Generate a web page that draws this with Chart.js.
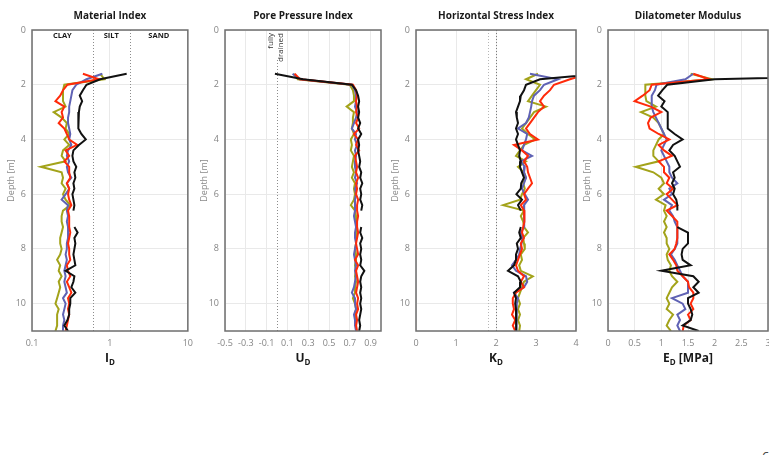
<!DOCTYPE html>
<html>
<head>
<meta charset="utf-8">
<title>DMT profiles</title>
<script src="https://cdn.jsdelivr.net/npm/chart.js@4.4.0/dist/chart.umd.min.js"></script>
<style>
  html, body { margin: 0; padding: 0; background: #fff; }
  body { position: relative; width: 769px; height: 455px; overflow: hidden; }
  canvas { position: absolute; top: 0; }
  .page-no { position: absolute; left: 762px; top: 447px; font: 13px "Open Sans", sans-serif; color: #333; }
</style>
</head>
<body>
<canvas id="materialChart" width="200" height="380" style="left:0"></canvas>
<canvas id="poreChart" width="200" height="380" style="left:193px"></canvas>
<canvas id="stressChart" width="204" height="380" style="left:384px"></canvas>
<canvas id="modulusChart" width="204" height="380" style="left:576px"></canvas>
<div class="page-no">6</div>

<script>
// depth of each reading [m]
const depth = [
  1.6, 1.8, 2.0, 2.2, 2.4, 2.6, 2.8, 3.0,
  3.2, 3.4, 3.6, 3.8, 4.0, 4.2, 4.4, 4.6,
  4.8, 5.0, 5.2, 5.4, 5.6, 5.8, 6.0, 6.2,
  6.4, 6.6, 6.8, 7.0, 7.2, 7.4, 7.6, 7.8,
  8.0, 8.2, 8.4, 8.6, 8.8, 9.0, 9.2, 9.4,
  9.6, 9.8, 10.0, 10.2, 10.4, 10.6, 10.8, 11.0
];

// Material index I_D
const idBlack = [
  1.64, 0.75, 0.50, 0.45, 0.41, 0.44, 0.41, 0.40,
  0.39, 0.40, 0.39, 0.43, 0.49, 0.40, 0.34, 0.33,
  0.34, 0.37, 0.35, 0.36, 0.34, 0.35, 0.33, 0.34,
  0.35, 0.34, null, null, 0.35, 0.385, 0.35, 0.36,
  0.35, 0.34, 0.35, 0.36, 0.27, 0.35, 0.34, 0.32,
  0.36, 0.31, 0.31, 0.30, 0.30, 0.285, 0.26, 0.29
];
const idRed = [
  0.45, 0.72, 0.285, 0.25, 0.23, 0.20, 0.26, 0.24,
  0.25, 0.22, 0.26, 0.28, 0.30, 0.38, 0.27, 0.30,
  0.26, 0.30, 0.30, 0.31, 0.28, 0.30, 0.29, 0.30,
  0.32, 0.29, 0.30, 0.30, 0.30, 0.31, 0.30, 0.29,
  0.30, 0.30, 0.31, 0.28, 0.29, 0.31, 0.28, 0.30,
  0.32, 0.29, 0.30, 0.29, 0.30, 0.29, 0.28, 0.27
];
const idBlue = [
  0.80, 0.50, 0.37, 0.33, 0.32, 0.31, 0.30, 0.30,
  0.29, 0.29, 0.30, 0.31, 0.30, 0.32, 0.29, 0.28,
  0.30, 0.28, 0.29, 0.32, 0.28, 0.30, 0.27, 0.24,
  0.29, 0.28, 0.29, 0.28, 0.29, 0.29, 0.29, 0.28,
  0.28, 0.27, 0.28, 0.27, 0.26, 0.27, 0.26, 0.27,
  0.28, 0.25, 0.27, 0.26, 0.25, 0.26, 0.25, 0.25
];
const idOlive = [
  0.75, 0.85, 0.26, 0.25, 0.25, 0.25, 0.27, 0.19,
  0.24, 0.28, 0.27, 0.30, 0.26, 0.30, 0.25, 0.24,
  0.27, 0.13, 0.24, 0.25, 0.24, 0.27, 0.25, 0.27,
  0.31, 0.25, 0.24, 0.24, 0.25, 0.24, 0.23, 0.23,
  0.24, 0.23, 0.21, 0.23, 0.22, 0.24, 0.22, 0.23,
  0.22, 0.21, 0.20, 0.22, 0.21, 0.21, 0.21, 0.20
];

// Pore pressure index U_D
const udBlack = [
  -0.02, 0.25, 0.72, 0.76, 0.78, 0.79, 0.78, 0.79,
  0.78, 0.80, 0.78, 0.81, 0.78, 0.79, 0.78, 0.79,
  0.80, 0.79, 0.81, 0.80, 0.82, 0.80, 0.81, 0.80,
  0.82, 0.81, null, null, 0.81, 0.80, 0.82, 0.80,
  0.81, 0.80, 0.81, 0.80, 0.84, 0.81, 0.80, 0.81,
  0.80, 0.81, 0.80, 0.81, 0.80, 0.79, 0.80, 0.79
];
const udRed = [
  0.17, 0.22, 0.73, 0.76, 0.77, 0.76, 0.77, 0.76,
  0.78, 0.76, 0.79, 0.74, 0.78, 0.76, 0.79, 0.75,
  0.76, 0.77, 0.76, 0.78, 0.76, 0.77, 0.76, 0.78,
  0.77, 0.77, 0.78, 0.77, 0.77, 0.78, 0.77, 0.76,
  0.77, 0.78, 0.75, 0.78, 0.76, 0.77, 0.78, 0.77,
  0.76, 0.78, 0.77, 0.78, 0.76, 0.77, 0.76, 0.77
];
const udBlue = [
  0.15, 0.22, 0.72, 0.75, 0.76, 0.76, 0.75, 0.77,
  0.76, 0.74, 0.72, 0.76, 0.75, 0.77, 0.75, 0.76,
  0.75, 0.75, 0.76, 0.75, 0.77, 0.75, 0.76, 0.75,
  0.75, 0.75, 0.74, 0.75, 0.76, 0.75, 0.75, 0.76,
  0.75, 0.74, 0.75, 0.76, 0.75, 0.76, 0.75, 0.74,
  0.72, 0.75, 0.75, 0.76, 0.74, 0.75, 0.75, 0.76
];
const udOlive = [
  0.16, 0.20, 0.70, 0.73, 0.74, 0.74, 0.67, 0.74,
  0.73, 0.73, 0.72, 0.74, 0.71, 0.72, 0.71, 0.74,
  0.73, 0.72, 0.74, 0.72, 0.75, 0.74, 0.75, 0.74,
  0.71, 0.75, 0.76, 0.76, 0.76, 0.76, 0.76, 0.76,
  0.75, 0.76, 0.76, 0.75, 0.76, 0.75, 0.76, 0.75,
  0.75, 0.73, 0.75, 0.76, 0.75, 0.76, 0.76, 0.76
];

// Horizontal stress index K_D
const kdBlack = [
  4.6, 3.1, 2.75, 2.70, 2.62, 2.60, 2.55, 2.50,
  2.52, 2.55, 2.50, 2.55, 2.50, 2.55, 2.60, 2.58,
  2.62, 2.60, 2.65, 2.70, 2.63, 2.62, 2.51, 2.65,
  2.55, 2.62, null, null, 2.62, 2.58, 2.62, 2.52,
  2.55, 2.50, 2.50, 2.45, 2.30, 2.55, 2.62, 2.60,
  2.45, 2.50, 2.48, 2.50, 2.50, 2.50, 2.52, 2.50
];
const kdRed = [
  4.3, 3.85, 3.45, 3.35, 3.20, 3.10, 3.20, 3.05,
  2.95, 2.85, 2.75, 2.85, 3.05, 2.45, 2.65, 2.80,
  2.70, 2.78, 2.80, 2.85, 2.90, 2.80, 2.70, 2.75,
  2.62, 2.70, 2.72, 2.70, 2.68, 2.65, 2.70, 2.62,
  2.65, 2.60, 2.55, 2.50, 2.55, 2.70, 2.62, 2.70,
  2.50, 2.42, 2.42, 2.45, 2.40, 2.48, 2.42, 2.48
];
const kdBlue = [
  2.85, 3.55, 3.20, 3.10, 2.95, 2.90, 2.88, 2.85,
  2.82, 2.75, 2.55, 2.78, 2.75, 2.70, 2.65, 2.90,
  2.62, 2.72, 2.70, 2.75, 2.70, 2.65, 2.72, 2.80,
  2.70, 2.70, 2.70, 2.72, 2.70, 2.62, 2.66, 2.64,
  2.60, 2.58, 2.50, 2.40, 2.50, 2.75, 2.78, 2.70,
  2.45, 2.55, 2.52, 2.50, 2.52, 2.50, 2.52, 2.52
];
const kdOlive = [
  3.05, 2.75, 3.10, 3.00, 2.90, 2.80, 3.25, 2.95,
  2.85, 2.75, 2.65, 2.80, 2.98, 2.70, 2.60, 2.50,
  2.75, 2.55, 2.70, 2.75, 2.68, 2.72, 2.65, 2.60,
  2.18, 2.70, 2.62, 2.68, 2.70, 2.80, 2.68, 2.70,
  2.72, 2.62, 2.65, 2.58, 2.62, 2.92, 2.70, 2.65,
  2.60, 2.55, 2.60, 2.55, 2.60, 2.55, 2.60, 2.58
];

// Dilatometer modulus E_D [MPa]
const edBlack = [
  6.0, 2.0, 1.11, 1.02, 0.94, 1.06, 1.00, 1.12,
  1.12, 1.12, 1.12, 1.25, 1.40, 1.22, 1.15, 1.25,
  1.30, 1.35, 1.22, 1.25, 1.20, 1.25, 1.22, 1.28,
  1.30, 1.30, null, null, 1.30, 1.50, 1.50, 1.50,
  1.40, 1.38, 1.40, 1.55, 1.00, 1.60, 1.70, 1.60,
  1.70, 1.50, 1.50, 1.55, 1.58, 1.55, 1.40, 1.70
];
const edRed = [
  1.60, 1.90, 0.82, 0.78, 0.65, 0.50, 0.80, 1.00,
  0.80, 0.75, 0.78, 0.95, 1.15, 0.95, 1.05, 1.20,
  0.95, 1.05, 1.05, 1.15, 1.10, 1.22, 1.10, 1.20,
  1.30, 1.10, 1.20, 1.30, 1.30, 1.30, 1.30, 1.28,
  1.25, 1.15, 1.22, 1.28, 1.30, 1.40, 1.50, 1.52,
  1.60, 1.60, 1.55, 1.60, 1.50, 1.55, 1.42, 1.40
];
const edBlue = [
  1.60, 1.45, 0.91, 0.88, 0.82, 0.82, 0.82, 0.85,
  0.90, 0.95, 1.00, 1.05, 1.10, 1.05, 1.00, 1.05,
  1.10, 1.15, 1.15, 1.20, 1.30, 1.15, 1.20, 1.05,
  1.20, 1.15, 1.22, 1.25, 1.30, 1.30, 1.30, 1.30,
  1.25, 1.18, 1.25, 1.30, 1.35, 1.40, 1.50, 1.50,
  1.50, 1.20, 1.40, 1.45, 1.30, 1.35, 1.30, 1.35
];
const edOlive = [
  1.55, 1.95, 0.70, 0.70, 0.70, 0.72, 0.90, 0.62,
  0.85, 0.95, 1.00, 1.05, 0.95, 0.90, 0.85, 0.85,
  0.95, 0.52, 0.85, 1.00, 1.05, 0.95, 1.05, 0.90,
  1.08, 1.05, 1.10, 1.05, 1.10, 1.05, 1.10, 1.10,
  1.15, 1.10, 1.12, 1.18, 1.15, 1.20, 1.30, 1.20,
  1.15, 1.10, 1.15, 1.10, 1.22, 1.15, 1.10, 1.18
];

// tick values
const depthTicks = [0, 2, 4, 6, 8, 10];
const idTicks = [0.1, 1, 10];
const udTicks = [-0.5, -0.3, -0.1, 0.1, 0.3, 0.5, 0.7, 0.9];
const kdTicks = [0, 1, 2, 3, 4];
const edTicks = [0, 0.5, 1, 1.5, 2, 2.5, 3];

const lineColors = ['#111111', '#ff2a0a', '#5f62b4', '#a3a31a'];

Chart.defaults.font.family = '"Open Sans", "Noto Sans", sans-serif';

// grid frame, guide lines, titles and the subscripted axis symbol
const panelDecor = {
  id: 'panelDecor',
  beforeDatasetsDraw(chart, args, opts) {
    const { ctx, chartArea: a, scales: { x } } = chart;
    ctx.save();
    ctx.lineWidth = 1;
    ctx.setLineDash([1, 2]);
    (opts.guides || []).forEach(g => {
      const px = Math.round(x.getPixelForValue(g.value)) + 0.5;
      ctx.strokeStyle = g.color;
      ctx.beginPath();
      ctx.moveTo(px, a.top + (g.gapTop || 0));
      ctx.lineTo(px, a.bottom);
      ctx.stroke();
    });
    ctx.restore();
  },
  afterDraw(chart, args, opts) {
    const { ctx, chartArea: a, scales: { x } } = chart;
    const cx = (a.left + a.right) / 2;
    ctx.save();

    ctx.strokeStyle = '#6e6e6e';
    ctx.lineWidth = 1.5;
    ctx.strokeRect(a.left, a.top, a.right - a.left, a.bottom - a.top);

    ctx.fillStyle = '#1a1a1a';
    ctx.textAlign = 'center';
    ctx.textBaseline = 'middle';
    ctx.font = 'bold 10px "Open Sans"';
    ctx.fillText(opts.title, cx, 16);

    // soil type zones
    ctx.font = 'bold 7.5px "Open Sans"';
    (opts.zones || []).forEach(z => {
      const zx = (x.getPixelForValue(z.from) + x.getPixelForValue(z.to)) / 2;
      ctx.fillText(z.text, zx, a.top + 6);
    });

    // rotated note beside a guide line
    if (opts.note) {
      const px = x.getPixelForValue(opts.note.value);
      ctx.save();
      ctx.translate(px, a.top + 3);
      ctx.rotate(-Math.PI / 2);
      ctx.font = '8px "Open Sans"';
      ctx.fillStyle = '#333';
      ctx.textAlign = 'right';
      ctx.fillText(opts.note.lines[0], 0, -6);
      ctx.fillText(opts.note.lines[1], 0, 3.5);
      ctx.restore();
    }

    // axis symbol with subscript
    const sym = opts.symbol;
    const big = 'bold 12px "Open Sans"';
    const small = 'bold 8px "Open Sans"';
    ctx.textAlign = 'left';
    ctx.textBaseline = 'alphabetic';
    ctx.font = big;
    const w1 = ctx.measureText(sym[0]).width;
    const w3 = ctx.measureText(sym[2]).width;
    ctx.font = small;
    const w2 = ctx.measureText(sym[1]).width;
    const sx = cx - (w1 + w2 + w3) / 2;
    const base = 362;
    ctx.font = big;
    ctx.fillText(sym[0], sx, base);
    ctx.font = small;
    ctx.fillText(sym[1], sx + w1, base + 3);
    ctx.font = big;
    ctx.fillText(sym[2], sx + w1 + w2, base);

    ctx.restore();
  }
};

function makeSeries(values) {
  return depth.map((d, i) => ({ x: values[i], y: d }));
}

function makePanel(canvasId, cfg) {
  return new Chart(document.getElementById(canvasId), {
    type: 'scatter',
    data: {
      datasets: cfg.series.map((vals, i) => ({
        data: makeSeries(vals),
        showLine: true,
        borderColor: lineColors[i],
        borderWidth: 2,
        pointRadius: 0,
        tension: 0,
        spanGaps: false
      }))
    },
    options: {
      responsive: false,
      animation: false,
      layout: { padding: { top: 30, right: 12, left: 0, bottom: 0 } },
      plugins: {
        legend: { display: false },
        tooltip: { enabled: false },
        panelDecor: cfg.decor
      },
      scales: {
        x: {
          type: cfg.xType || 'linear',
          min: cfg.min,
          max: cfg.max,
          afterBuildTicks: s => { s.ticks = cfg.ticks.map(v => ({ value: v })); },
          afterFit: s => { s.height = 49; },
          grid: { color: '#e9e9e9', drawTicks: false },
          border: { display: false },
          ticks: {
            padding: 7,
            color: '#858585',
            font: { size: 9 },
            autoSkip: false,
            maxRotation: 0,
            callback: v => String(v)
          }
        },
        y: {
          reverse: true,
          min: 0,
          max: 11,
          afterBuildTicks: s => { s.ticks = depthTicks.map(v => ({ value: v })); },
          afterFit: s => { s.width = 32; },
          grid: { color: '#e9e9e9', drawTicks: false },
          border: { display: false },
          ticks: { padding: 6, color: '#858585', font: { size: 9 }, callback: v => String(v) },
          title: {
            display: true,
            text: 'Depth [m]',
            color: '#8a8a8a',
            font: { size: 9 },
            padding: { top: 6, bottom: 0 }
          }
        }
      }
    },
    plugins: [panelDecor]
  });
}

makePanel('materialChart', {
  series: [idBlack, idRed, idBlue, idOlive],
  xType: 'logarithmic', min: 0.1, max: 10, ticks: idTicks,
  decor: {
    title: 'Material Index',
    symbol: ['I', 'D', ''],
    guides: [{ value: 0.6, color: '#8c8c8c' }, { value: 1.8, color: '#8c8c8c' }],
    zones: [
      { from: 0.1, to: 0.6, text: 'CLAY' },
      { from: 0.6, to: 1.8, text: 'SILT' },
      { from: 1.8, to: 10, text: 'SAND' }
    ]
  }
});

makePanel('poreChart', {
  series: [udBlack, udRed, udBlue, udOlive],
  min: -0.5, max: 1.0, ticks: udTicks,
  decor: {
    title: 'Pore Pressure Index',
    symbol: ['U', 'D', ''],
    guides: [{ value: 0, color: '#8c8c8c', gapTop: 30 }],
    note: { value: 0, lines: ['fully', 'drained'] }
  }
});

makePanel('stressChart', {
  series: [kdBlack, kdRed, kdBlue, kdOlive],
  min: 0, max: 4, ticks: kdTicks,
  decor: {
    title: 'Horizontal Stress Index',
    symbol: ['K', 'D', ''],
    guides: [{ value: 1.8, color: '#b5b5b5' }, { value: 2, color: '#7a7a7a' }]
  }
});

makePanel('modulusChart', {
  series: [edBlack, edRed, edBlue, edOlive],
  min: 0, max: 3, ticks: edTicks,
  decor: {
    title: 'Dilatometer Modulus',
    symbol: ['E', 'D', ' [MPa]']
  }
});
</script>
</body>
</html>
